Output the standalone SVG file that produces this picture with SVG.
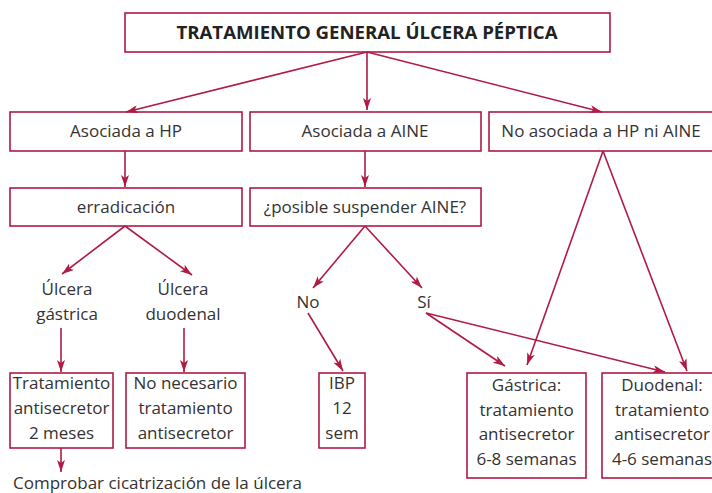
<svg xmlns="http://www.w3.org/2000/svg" width="712" height="493" viewBox="0 0 712 493">
<defs>
<marker id="ah" viewBox="0 0 12 8" refX="12" refY="4" markerWidth="12" markerHeight="8" markerUnits="userSpaceOnUse" orient="auto">
<path d="M0,0 L12,4 L0,8 L3,4 Z" fill="#b01a44"/>
</marker>
<style>
.box{fill:#fff;stroke:#b01a44;stroke-width:1.6}
.t{font-family:"Open Sans","Noto Sans",sans-serif;font-size:17px;fill:#333;text-anchor:middle}
.title{font-family:"Open Sans","Noto Sans",sans-serif;font-size:17.5px;font-weight:bold;fill:#222;text-anchor:middle}
.c line{stroke:#b01a44;stroke-width:1.6;marker-end:url(#ah)}
</style>
</defs>
<rect width="712" height="493" fill="#fff"/>
<g id="title"><rect class="box" x="125" y="13" width="485" height="39"/><text class="title" x="367" y="39" textLength="381" lengthAdjust="spacingAndGlyphs">TRATAMIENTO GENERAL ÚLCERA PÉPTICA</text></g>
<g id="hp"><rect class="box" x="10" y="112" width="232" height="39"/><text class="t" x="126" y="137">Asociada a HP</text></g>
<g id="aine"><rect class="box" x="250" y="112" width="231" height="39"/><text class="t" x="365" y="137">Asociada a AINE</text></g>
<g id="noasoc"><rect class="box" x="489" y="112" width="230" height="39"/><text class="t" x="601" y="137">No asociada a HP ni AINE</text></g>
<g id="errad"><rect class="box" x="10" y="188" width="232" height="38"/><text class="t" x="126" y="213">erradicación</text></g>
<g id="posible"><rect class="box" x="250" y="188" width="231" height="38"/><text class="t" x="365" y="213">¿posible suspender AINE?</text></g>
<g id="ugas"><text class="t" x="67" y="295">Úlcera</text><text class="t" x="67" y="320">gástrica</text></g>
<g id="uduo"><text class="t" x="183" y="295">Úlcera</text><text class="t" x="183" y="320">duodenal</text></g>
<g id="no"><text class="t" x="308" y="308">No</text></g>
<g id="si"><text class="t" x="424" y="308">Sí</text></g>
<g id="trat2"><rect class="box" x="10" y="373" width="103" height="75"/><text class="t" x="61.5" y="389">Tratamiento</text><text class="t" x="61.5" y="414">antisecretor</text><text class="t" x="61.5" y="439">2 meses</text></g>
<g id="nonec"><rect class="box" x="126" y="373" width="119" height="75"/><text class="t" x="185.5" y="389">No necesario</text><text class="t" x="185.5" y="414">tratamiento</text><text class="t" x="185.5" y="439">antisecretor</text></g>
<g id="ibp"><rect class="box" x="319" y="373" width="46" height="75"/><text class="t" x="342" y="389">IBP</text><text class="t" x="342" y="414">12</text><text class="t" x="342" y="439">sem</text></g>
<g id="gastrica"><rect class="box" x="467" y="373" width="119" height="105"/><text class="t" x="526.5" y="391">Gástrica:</text><text class="t" x="526.5" y="416">tratamiento</text><text class="t" x="526.5" y="440">antisecretor</text><text class="t" x="526.5" y="465">6-8 semanas</text></g>
<g id="duodenal"><rect class="box" x="602" y="373" width="124" height="105"/><text class="t" x="662" y="391">Duodenal:</text><text class="t" x="662" y="416">tratamiento</text><text class="t" x="662" y="440">antisecretor</text><text class="t" x="662" y="465">4-6 semanas</text></g>
<g id="comprobar"><text class="t" x="13" y="489" style="text-anchor:start">Comprobar cicatrización de la úlcera</text></g>
<g class="c" id="connectors">
<line x1="367" y1="52" x2="126" y2="112"/>
<line x1="367" y1="52" x2="367" y2="110"/>
<line x1="367" y1="52" x2="602" y2="112"/>
<line x1="125" y1="151" x2="125" y2="187"/>
<line x1="365" y1="151" x2="365" y2="187"/>
<line x1="125" y1="226" x2="62" y2="274"/>
<line x1="125" y1="226" x2="192" y2="275"/>
<line x1="61" y1="328" x2="61" y2="372"/>
<line x1="184" y1="328" x2="184" y2="372"/>
<line x1="61" y1="448" x2="61" y2="472"/>
<line x1="365" y1="226" x2="313" y2="288"/>
<line x1="365" y1="226" x2="422" y2="288"/>
<line x1="308" y1="313" x2="343" y2="371"/>
<line x1="426" y1="313" x2="505" y2="366"/>
<line x1="426" y1="313" x2="665" y2="372"/>
<line x1="603" y1="151" x2="527" y2="365"/>
<line x1="603" y1="151" x2="687" y2="371"/>
</g>
</svg>
